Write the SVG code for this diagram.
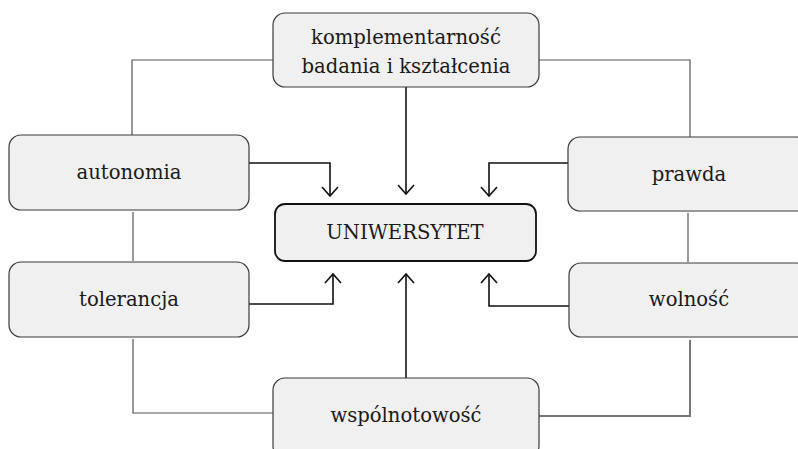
<svg xmlns="http://www.w3.org/2000/svg" width="798" height="449" viewBox="0 0 798 449">
<defs>
<style>
.box{fill:#f0f0f0;stroke:#3a3a3a;stroke-width:1.2}
.main{fill:#f0f0f0;stroke:#111;stroke-width:1.8}
.t{font-family:"DejaVu Serif",serif;font-size:19.6px;fill:#1a1a1a;text-anchor:middle}
.ln{fill:none;stroke:#555;stroke-width:1.2}
.ln2{fill:none;stroke:#777;stroke-width:2}
.ar{fill:none;stroke:#111;stroke-width:1.6}
</style>
<marker id="ah" viewBox="0 0 20 20" refX="10" refY="10" markerWidth="20" markerHeight="20" markerUnits="userSpaceOnUse" orient="auto">
<path d="M1,2 L10,10 L1,18" fill="none" stroke="#111" stroke-width="1.6"/>
</marker>
</defs>
<rect width="798" height="449" fill="#fff"/>
<g id="connectors">
<path class="ln" d="M273,60 H132 V135"/>
<path class="ln" d="M539,60 H690 V137"/>
<path class="ln" d="M133,212 V261"/>
<path class="ln" d="M688,213 V262"/>
<path class="ln" d="M133,339 V413 H273"/>
<path class="ln2" d="M690,340 V416 H539"/>
<path class="ar" d="M406,87 V194" marker-end="url(#ah)"/>
<path class="ar" d="M249,163 H330 V196" marker-end="url(#ah)"/>
<path class="ar" d="M568,163 H489 V196" marker-end="url(#ah)"/>
<path class="ar" d="M249,304 H333 V274" marker-end="url(#ah)"/>
<path class="ar" d="M569,306 H489 V274" marker-end="url(#ah)"/>
<path class="ar" d="M406,378 V274" marker-end="url(#ah)"/>
</g>
<g id="n-komplementarnosc">
<rect class="box" x="273" y="13" width="266" height="74" rx="12"/>
<text class="t" x="406" y="44">komplementarność</text>
<text class="t" x="406" y="73">badania i kształcenia</text>
</g>
<g id="n-autonomia">
<rect class="box" x="9" y="135" width="240" height="75" rx="12"/>
<text class="t" x="129" y="179">autonomia</text>
</g>
<g id="n-prawda">
<rect class="box" x="568" y="137" width="240" height="74" rx="12"/>
<text class="t" x="689" y="181">prawda</text>
</g>
<g id="n-uniwersytet">
<rect class="main" x="275" y="204" width="261" height="57" rx="10"/>
<text class="t" x="405" y="239">UNIWERSYTET</text>
</g>
<g id="n-tolerancja">
<rect class="box" x="9" y="262" width="240" height="75" rx="12"/>
<text class="t" x="129" y="306">tolerancja</text>
</g>
<g id="n-wolnosc">
<rect class="box" x="569" y="263" width="240" height="74" rx="12"/>
<text class="t" x="689" y="306">wolność</text>
</g>
<g id="n-wspolnotowosc">
<rect class="box" x="273" y="378" width="266" height="80" rx="12"/>
<text class="t" x="406" y="422">wspólnotowość</text>
</g>
</svg>
